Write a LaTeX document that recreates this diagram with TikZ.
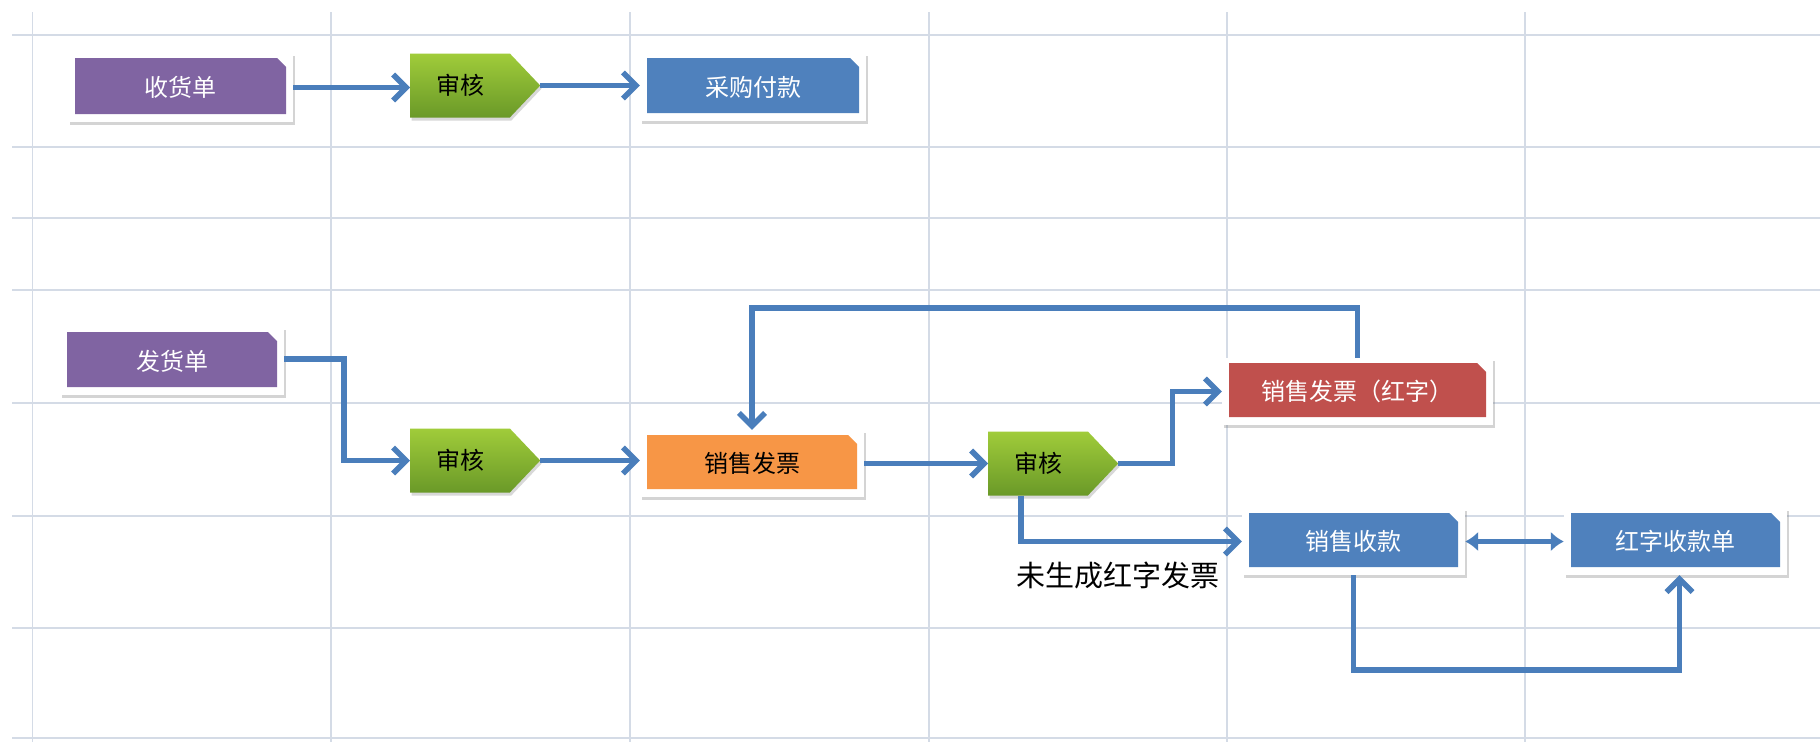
\documentclass[tikz,border=0pt]{standalone}
\usepackage{fontspec}
\newfontfamily\cjk{Noto Sans CJK SC}
\usetikzlibrary{arrows.meta,shapes.symbols,shadows,calc}
\definecolor{gridc}{RGB}{212,219,230}
\definecolor{arrc}{RGB}{74,126,187}
\definecolor{purp}{RGB}{128,100,162}
\definecolor{bluebox}{RGB}{79,129,189}
\definecolor{orng}{RGB}{247,150,70}
\definecolor{redbox}{RGB}{192,80,77}
\definecolor{greenT}{RGB}{160,204,58}
\definecolor{greenB}{RGB}{106,153,40}
\tikzset{
  gridline/.style={gridc, line width=1.3pt},
  box/.style={rectangle, fill=white, inner sep=0pt,
    drop shadow={shadow xshift=1.5pt, shadow yshift=-3pt, opacity=0.28, fill=black!60},
    font=\cjk\fontsize{24pt}{28pt}\selectfont, text=white,
    path picture={\fill[#1]
      ([shift={(7pt,-5pt)}]path picture bounding box.north west) --
      ([shift={(-16pt,-5pt)}]path picture bounding box.north east) --
      ([shift={(-7pt,-14pt)}]path picture bounding box.north east) --
      ([shift={(-7pt,8pt)}]path picture bounding box.south east) --
      ([shift={(7pt,8pt)}]path picture bounding box.south west) -- cycle;}},
  chev/.style={signal, signal to=east, signal from=nowhere, signal pointer angle=93,
    minimum height=64pt, minimum width=130pt, inner sep=0pt, anchor=west,
    top color=greenT, bottom color=greenB,
    drop shadow={shadow xshift=1.5pt, shadow yshift=-3pt, opacity=0.25, fill=black!60},
    font=\cjk\fontsize{24pt}{28pt}\selectfont, text=black},
  arr/.style={draw=arrc, line width=5.5pt, -{Straight Barb[length=13pt,width=26pt]}},
  dbl/.style={draw=arrc, line width=5pt, {Latex[length=13pt,width=20pt]}-{Latex[length=13pt,width=20pt]}},
  note/.style={font=\cjk\fontsize{29pt}{32pt}\selectfont, text=black, inner sep=0pt}
}
\begin{document}
\begin{tikzpicture}[x=1pt,y=-1pt]
\useasboundingbox[fill=white] (0,0) rectangle (1820,742);
% grid
\foreach \yy in {35,147,218,290,403,516,628,738}
  \draw[gridline] (12,\yy) -- (1820,\yy);
\foreach \xx in {32.5,331,630,929,1227,1525}
  \draw[gridline] (\xx,12) -- (\xx,742);
% nodes
\node[box=purp, minimum width=225pt, minimum height=69pt] (shd) at (180.5,87.5) {收货单};
\node[chev] (sh1) at (410,85.5) {审核\hspace{26pt}};
\node[box=bluebox, minimum width=226pt, minimum height=68pt] (cg) at (753,87) {采购付款};
\node[box=purp, minimum width=224pt, minimum height=68pt] (fh) at (172,361) {发货单};
\node[chev] (sh2) at (410,460.5) {审核\hspace{26pt}};
\node[box=orng, minimum width=224pt, minimum height=67pt, text=black] (xs) at (752,463.5) {销售发票};
\node[chev] (sh3) at (988,463.5) {审核\hspace{26pt}};
\node[box=redbox, minimum width=271pt, minimum height=67pt] (hzfp) at (1357.5,391.5) {销售发票（红字）};
\node[box=bluebox, minimum width=223pt, minimum height=67pt] (sk) at (1353.5,541.5) {销售收款};
\node[box=bluebox, minimum width=223pt, minimum height=67pt] (hzsk) at (1675.5,541.5) {红字收款单\hspace{44pt}};
\node[note] (lbl) at (1118,575) {未生成红字发票};
% connectors
\draw[arr] (shd.east) -- (shd.east -| sh1.west);
\draw[arr] (sh1.east) -- (sh1.east -| cg.west);
\draw[arr] ([yshift=2pt]fh.east) -- ++(60,0) |- (sh2.west);
\draw[arr] (sh2.east) -- (sh2.east -| xs.west);
\draw[arr] (xs.east) -- (xs.east -| sh3.west);
\draw[arr] (sh3.east) -- ++(54,0) |- (hzfp.west);
\draw[arr] ([xshift=-17pt]sh3.south) |- (sk.west);
\draw[arr] (hzfp.north) -- ++(0,-50) -| (xs.north);
\draw[dbl] (sk.east) -- (hzsk.west);
\draw[arr] (sk.south) -- ++(0,95) -| ([xshift=4pt]hzsk.south);
\end{tikzpicture}
\end{document}
